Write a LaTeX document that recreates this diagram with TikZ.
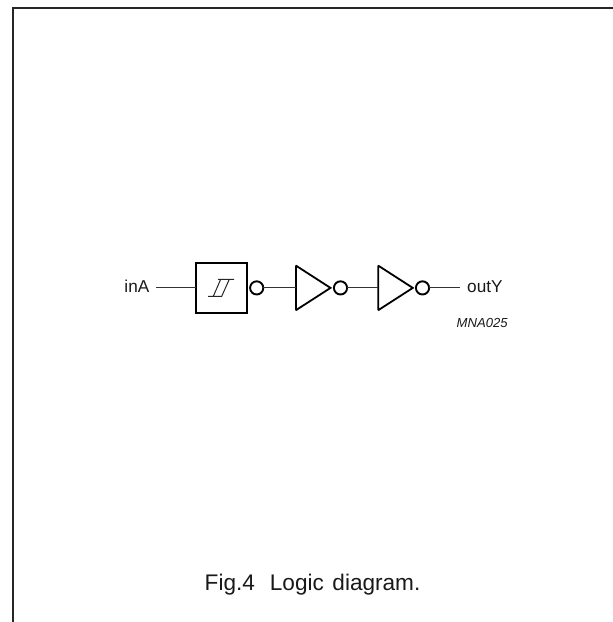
\documentclass[tikz,border=0pt]{standalone}
\usepackage{fontspec}
\setmainfont{Liberation Sans}
\usetikzlibrary{shapes.geometric}
\tikzset{
 frameline/.style={line width=1.6pt,black!85},
 gateline/.style={line width=1.8pt,black},
 wire/.style={line width=1.1pt,black!80},
 thinline/.style={line width=1pt,black!85},
 bubble/.style={circle,draw,line width=1.9pt,minimum size=13.2pt,inner sep=0pt,outer sep=0pt},
 tri/.style={isosceles triangle,isosceles triangle stretches,draw,line width=1.8pt,minimum width=44.5pt,minimum height=34.5pt,inner sep=0pt,outer sep=0pt,miter limit=2},
 lbl/.style={inner sep=0pt,font=\fontsize{17.2}{20}\selectfont,black!90},
}
\begin{document}
\begin{tikzpicture}[x=1pt,y=-1pt]
\useasboundingbox (0,0) rectangle (613,622);
\fill[white] (0,0) rectangle (613,622);
\draw[frameline] (13,622) -- (13,8) -- (613,8);
\node[lbl,anchor=base east] (ina) at (149.5,292) {inA};
\node[draw,gateline,minimum width=51pt,minimum height=50pt,inner sep=0pt,outer sep=0pt] (sch) at (221.5,287.7) {};
\coordinate (ina0) at (156,287.7);
\draw[wire] (ina0) -- (sch.west);
\draw[thinline] (208,296.3) -- (221.7,296.3) -- (229.3,279.3) -- (218,279.3) (213.3,296.3) -- (220.7,279.3) (229.3,279.3) -- (234,279.3);
\node[bubble] (b1) at (256.7,287.9) {};
\node[tri,anchor=lower side] (t1) at (296,287.9) {};
\node[bubble] (b2) at (340.5,287.9) {};
\node[tri,anchor=lower side] (t2) at (378.3,287.9) {};
\node[bubble] (b3) at (422.5,287.9) {};
\coordinate (y0) at (460,287.9);
\node[lbl,anchor=base west] (outy) at (467,292.5) {outY};
\node[inner sep=0pt,anchor=base west,font=\fontsize{13.1}{15}\selectfont\itshape,black!90] (code) at (456.5,327) {MNA025};
\node[inner sep=0pt,anchor=base west,font=\fontsize{22.6}{26}\selectfont,black!90] (cap) at (204.5,590) {Fig.4\hspace{15pt}Logic\hspace{8.5pt}diagram.};
\draw[wire] (b1.east) -- (296,287.9);
\draw[wire] (b2.east) -- (378.3,287.9);
\draw[wire] (b3.east) -- (y0);
\end{tikzpicture}
\end{document}
